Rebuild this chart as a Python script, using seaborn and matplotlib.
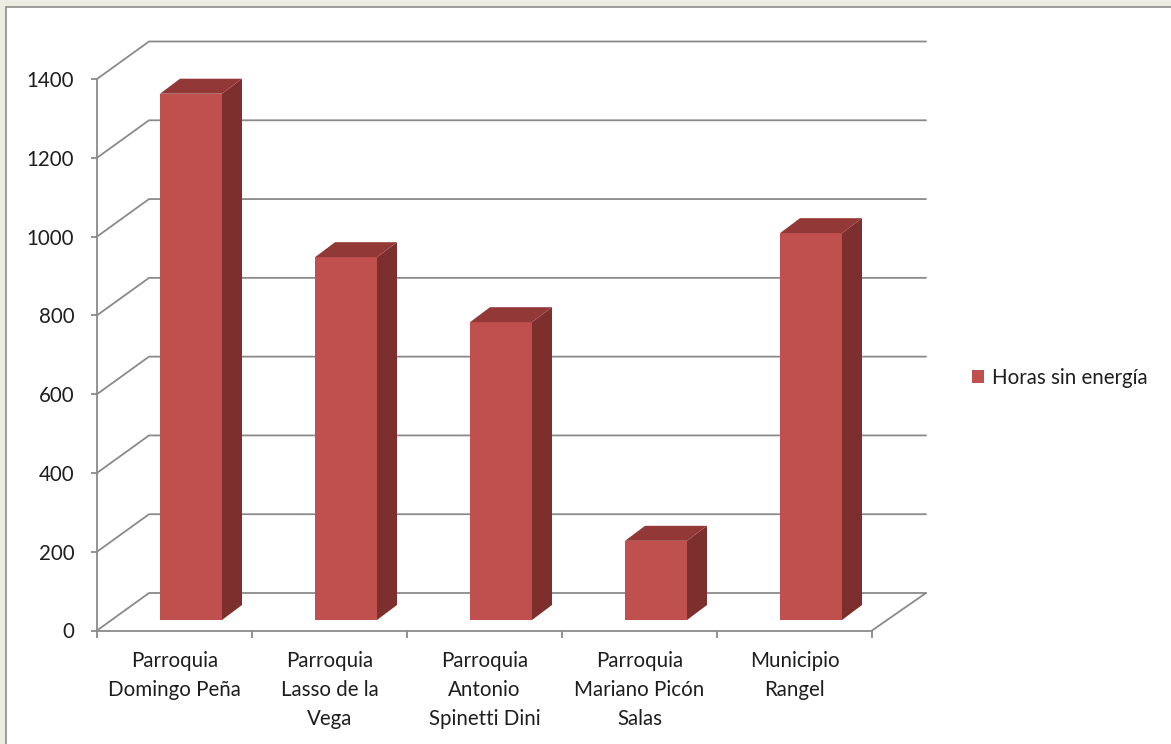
import numpy as np
import pandas as pd
import matplotlib
matplotlib.use("Agg")
import matplotlib.pyplot as plt
from matplotlib.patches import Polygon, Rectangle, Patch
from matplotlib.lines import Line2D
from matplotlib.transforms import IdentityTransform
import seaborn as sns

# ---- data ----
categorias = [
    "Parroquia\nDomingo Peña",
    "Parroquia\nLasso de la\nVega",
    "Parroquia\nAntonio\nSpinetti Dini",
    "Parroquia\nMariano Picón\nSalas",
    "Municipio\nRangel",
]
horas = [1336, 921, 756, 201, 982]
serie = "Horas sin energía"
y_ticks = [0, 200, 400, 600, 800, 1000, 1200, 1400]

# ---- style ----
FRONT = "#C0504D"
SIDE = "#7D2F2E"
TOP = "#923937"
GRID = "#8A8A8A"
TXT = "#1E1E1E"
BG = "#EEECE1"
FS = 14.8

sns.set_theme(style="white")
plt.rcParams["font.family"] = ["Lato", "DejaVu Sans"]

W, H, DPI = 1171, 744, 100
fig = plt.figure(figsize=(W / DPI, H / DPI), dpi=DPI, facecolor=BG)

# white chart area with a grey frame
fig.add_artist(Rectangle((5.5, -20), 1300, 744 - 7 + 20, transform=IdentityTransform(),
                         facecolor="white", edgecolor="#8C8C8C", linewidth=1.2, zorder=-5))

# front plane of the 3-D box (pixel geometry)
X0, X1 = 97, 872
Y0, Y1 = 630.5, 79          # value 0 and value 1400, image rows
ax = fig.add_axes([X0 / W, (H - Y0) / H, (X1 - X0) / W, (Y0 - Y1) / H])
ax.set_xlim(-0.5, len(categorias) - 0.5)
ax.set_ylim(0, 1400)
ax.patch.set_alpha(0)
for s in ["top", "right"]:
    ax.spines[s].set_visible(False)
for s in ["left", "bottom"]:
    ax.spines[s].set_color(GRID)
    ax.spines[s].set_linewidth(1.3)

# depth of the box (wall offset) and of the bar row
DX, DY = 52, 37.5
BDX, BDY = 16.5, 10.5
BAR_DEPTH = (20, 15)

idt = IdentityTransform()


def disp(axis, x, v, dx=0.0, dy=0.0):
    p = axis.transData.transform((x, v))
    return p[0] + dx, p[1] + dy


# back-wall gridlines and left-wall diagonals
xl, xr = -0.5, len(categorias) - 0.5
for v in y_ticks:
    a = disp(ax, xl, v)
    b = disp(ax, xl, v, DX, DY)
    c = disp(ax, xr, v, DX + 2, DY)
    ax.add_line(Line2D([a[0], b[0], c[0]], [a[1], b[1], c[1]], transform=idt,
                       color=GRID, lw=1.3, clip_on=False, zorder=1))
# floor right edge
a = disp(ax, xr, 0)
b = disp(ax, xr, 0, DX + 2, DY)
ax.add_line(Line2D([a[0], b[0]], [a[1], b[1]], transform=idt,
                   color=GRID, lw=1.3, clip_on=False, zorder=1))

# ticks
ax.set_yticks(y_ticks)
ax.set_yticklabels([str(v) for v in y_ticks])
ax.tick_params(axis="y", which="major", left=True, length=4.3, width=1.3, color=GRID,
               labelsize=FS, labelcolor=TXT, pad=12)
ax.set_xticks(np.arange(len(categorias) + 1) - 0.5)
ax.set_xticklabels([])
ax.set_xticks(np.arange(len(categorias)), minor=True)
ax.set_xticklabels(categorias, minor=True, linespacing=1.55)
ax.tick_params(axis="x", which="major", bottom=True, length=5, width=1.3, color=GRID)
ax.tick_params(axis="x", which="minor", bottom=False, length=0,
               labelsize=FS, labelcolor=TXT, pad=15)
ax.set_xlabel("")
ax.set_ylabel("")

# bar row, shifted back into the box
axb = fig.add_axes([(X0 + BDX) / W, (H - Y0 + BDY) / H, (X1 - X0) / W, (Y0 - Y1) / H],
                   zorder=2)
df = pd.DataFrame({"categoria": categorias, "horas": horas, "serie": serie})
sns.barplot(data=df, x="categoria", y="horas", hue="serie", palette=[FRONT],
            width=0.4, ax=axb, saturation=1, legend=False, linewidth=0)
axb.set_xlim(-0.5, len(categorias) - 0.5)
axb.set_ylim(0, 1400)
axb.axis("off")

ddx, ddy = BAR_DEPTH
for p in axb.patches:
    x0, w, h = p.get_x(), p.get_width(), p.get_height()
    bl = disp(axb, x0, 0)
    br = disp(axb, x0 + w, 0)
    tl = disp(axb, x0, h)
    tr = disp(axb, x0 + w, h)
    side = [br, tr, (tr[0] + ddx, tr[1] + ddy), (br[0] + ddx, br[1] + ddy)]
    top = [tl, tr, (tr[0] + ddx, tr[1] + ddy), (tl[0] + ddx, tl[1] + ddy)]
    axb.add_patch(Polygon(side, closed=True, transform=idt, facecolor=SIDE,
                          edgecolor="none", clip_on=False, zorder=3))
    axb.add_patch(Polygon(top, closed=True, transform=idt, facecolor=TOP,
                          edgecolor="none", clip_on=False, zorder=3))

# legend
handle = Patch(facecolor=FRONT, edgecolor="none", label=serie)
fig.legend(handles=[handle], loc="center left", bbox_to_anchor=(972 / W, (H - 378) / H),
           frameon=False, fontsize=FS, labelcolor=TXT, handlelength=0.58,
           handleheight=0.58, handletextpad=0.4, borderpad=0, borderaxespad=0)

fig.savefig("out.png", dpi=DPI, facecolor=BG)
